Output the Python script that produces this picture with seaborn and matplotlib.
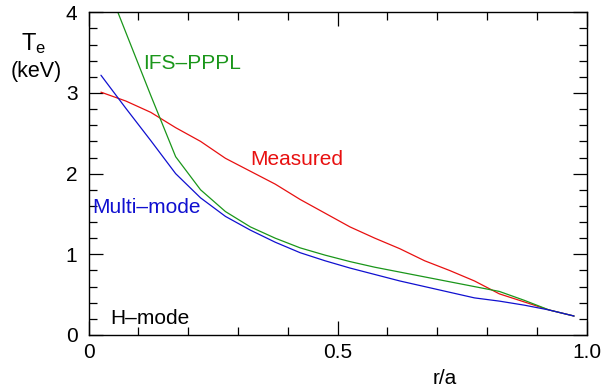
import numpy as np
import pandas as pd
import matplotlib
matplotlib.use("Agg")
import matplotlib.pyplot as plt
from matplotlib.ticker import MultipleLocator
import seaborn as sns

# Normalized radius r/a
r_a = [0.025, 0.075, 0.125, 0.175, 0.225, 0.275, 0.325, 0.375, 0.425, 0.475,
       0.525, 0.575, 0.625, 0.675, 0.725, 0.775, 0.825, 0.875, 0.925, 0.975]

# Electron temperature profiles (keV)
te_measured = [3.01, 2.90, 2.76, 2.57, 2.40, 2.19, 2.03, 1.87, 1.68, 1.51,
               1.34, 1.20, 1.07, 0.92, 0.80, 0.67, 0.51, 0.41, 0.31, 0.235]
te_ifs_pppl = [4.53, 3.75, 2.97, 2.21, 1.80, 1.53, 1.34, 1.20, 1.08, 0.99,
               0.91, 0.84, 0.78, 0.72, 0.66, 0.60, 0.54, 0.43, 0.31, 0.235]
te_multimode = [3.22, 2.81, 2.41, 2.00, 1.70, 1.47, 1.30, 1.15, 1.02, 0.92,
                0.83, 0.75, 0.67, 0.60, 0.53, 0.46, 0.42, 0.37, 0.31, 0.235]

series_names = ["Measured", "IFS\u2013PPPL", "Multi\u2013mode"]
series_colors = ["#e81010", "#1a961a", "#1010d0"]

df = pd.DataFrame({
    "r/a": r_a * 3,
    "Te": te_measured + te_ifs_pppl + te_multimode,
    "model": np.repeat(series_names, len(r_a)),
})

sns.set_theme(style="white")
plt.rcParams["font.family"] = ["Liberation Sans", "DejaVu Sans"]
plt.rcParams["mathtext.fontset"] = "custom"
plt.rcParams["mathtext.rm"] = "Liberation Sans"
plt.rcParams["mathtext.it"] = "Liberation Sans"

fig = plt.figure(figsize=(6.06, 3.88), dpi=100)
ax = fig.add_axes([88.5 / 606, 1 - 335 / 388, 498 / 606, (335 - 12.3) / 388])

sns.lineplot(data=df, x="r/a", y="Te", hue="model", hue_order=series_names,
             palette=series_colors, linewidth=0.9, legend=False, ax=ax,
             sort=False, estimator=None)

ax.set_xlim(0, 1.0)
ax.set_ylim(0, 4)
ax.set_xticks([0, 0.5, 1.0])
ax.set_xticklabels(["0", "0.5", "1.0"])
ax.set_yticks([0, 1, 2, 3, 4])
ax.set_yticklabels(["0", "1", "2", "3", "4"])
ax.xaxis.set_minor_locator(MultipleLocator(0.1))
ax.yaxis.set_minor_locator(MultipleLocator(0.2))
ax.tick_params(which="both", direction="in", top=True, right=True,
               bottom=True, left=True, color="black", width=0.9,
               labelsize=15, labelcolor="black")
ax.tick_params(which="major", length=10)
ax.tick_params(axis="x", which="major", pad=6)
ax.tick_params(axis="y", which="major", pad=8)
ax.tick_params(which="minor", length=6)
for s in ax.spines.values():
    s.set_color("black")
    s.set_linewidth(1.0)

ax.set_xlabel("r/a", fontsize=15, color="black")
ax.xaxis.set_label_coords((445 - 88.5) / 498, -0.105)
ax.set_ylabel("")

fig.text(34 / 606, 1 - 44 / 388, r"T$_\mathregular{e}$", fontsize=17,
         ha="center", va="center", color="black")
fig.text(36 / 606, 1 - 72 / 388, "(keV)", fontsize=15.5, ha="center",
         va="center", color="black")

label_size = 15
ax.text(0.109, 3.36, series_names[1], color=series_colors[1],
        fontsize=label_size, ha="left", va="center")
ax.text(0.324, 2.17, series_names[0], color=series_colors[0],
        fontsize=label_size, ha="left", va="center")
ax.text(0.007, 1.585, series_names[2], color=series_colors[2],
        fontsize=label_size, ha="left", va="center")
ax.text(0.043, 0.21, "H\u2013mode", color="black", fontsize=label_size,
        ha="left", va="center")

fig.savefig("out.png", dpi=100)
